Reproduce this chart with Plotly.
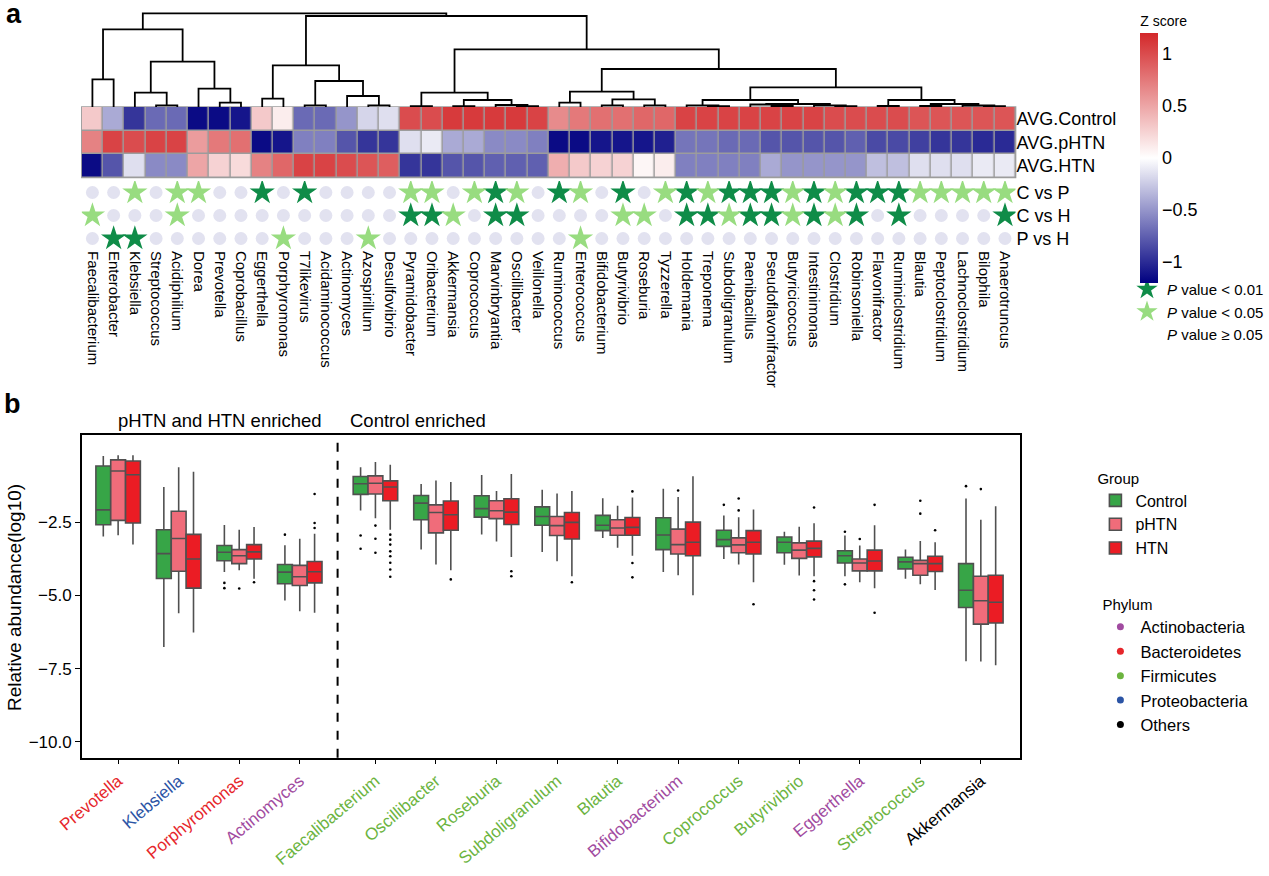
import plotly.graph_objects as go

# ---------------- panel a data ----------------
genera = ["Faecalibacterium", "Enterobacter", "Klebsiella", "Streptococcus", "Acidiphilium", "Dorea",
          "Prevotella", "Coprobacillus", "Eggerthella", "Porphyromonas", "T7likevirus", "Acidaminococcus",
          "Actinomyces", "Azospirillum", "Desulfovibrio", "Pyramidobacter", "Oribacterium", "Akkermansia",
          "Coprococcus", "Marvinbryantia", "Oscillibacter", "Veillonella", "Ruminococcus", "Enterococcus",
          "Bifidobacterium", "Butyrivibrio", "Roseburia", "Tyzzerella", "Holdemania", "Treponema",
          "Subdoligranulum", "Paenibacillus", "Pseudoflavonifractor", "Butyricicoccus", "Intestinimonas",
          "Clostridium", "Robinsoniella", "Flavonifractor", "Ruminiclostridium", "Blautia",
          "Peptoclostridium", "Lachnoclostridium", "Bilophila", "Anaerotruncus"]
heat_rows = ["AVG.Control", "AVG.pHTN", "AVG.HTN"]
z_control = [0.3, -0.4, -0.95, -0.7, -0.7, -1.15, -1.15, -1.1, 0.3, 0.1, -0.7, -0.7, -0.5, -0.2, -0.15,
             1.0, 1.0, 1.1, 1.1, 1.1, 1.1, 1.05,
             0.65, 0.75, 0.8, 0.8, 0.85, 0.85,
             1.05, 1.05, 1.05, 1.05, 1.05, 1.05, 1.05, 1.0, 1.0, 1.0, 1.0, 0.95, 0.95, 0.95, 0.95, 0.95]
z_phtn = [0.7, 1.05, 1.0, 1.05, 1.05, 0.55, 0.75, 0.8, -1.15, -1.1, -0.6, -0.6, -0.8, -0.95, -0.95,
          -0.15, -0.1, -0.4, -0.4, -0.55, -0.55, -0.6,
          -1.15, -1.15, -1.1, -1.1, -1.1, -1.05,
          -0.65, -0.65, -0.7, -0.7, -0.8, -0.8, -0.8, -0.8, -0.75, -0.85, -0.85, -0.9, -0.95, -0.95, -1.0, -1.0]
z_htn = [-1.15, -0.8, -0.15, -0.55, -0.55, 0.5, 0.25, 0.2, 0.7, 0.85, 1.05, 1.05, 1.0, 0.95, 0.9,
         -0.95, -0.95, -0.8, -0.8, -0.75, -0.75, -0.75,
         0.45, 0.3, 0.25, 0.25, 0.05, 0.1,
         -0.6, -0.6, -0.6, -0.6, -0.4, -0.5, -0.5, -0.5, -0.5, -0.3, -0.3, -0.15, -0.15, -0.15, -0.1, -0.1]

comparisons = ["C vs P", "C vs H", "P vs H"]
# 2 = P<0.01, 1 = P<0.05, 0 = P>=0.05
sig_cvp = [0, 0, 1, 0, 1, 1, 0, 0, 2, 0, 2, 0, 0, 0, 0, 1, 1, 0, 1, 2, 1, 0,
           2, 1, 0, 2, 0, 1, 2, 1, 2, 2, 2, 1, 2, 1, 2, 2, 2, 1, 1, 1, 1, 1]
sig_cvh = [1, 0, 0, 0, 1, 0, 0, 0, 0, 0, 0, 0, 0, 0, 0, 2, 2, 1, 0, 2, 2, 0,
           0, 0, 0, 1, 1, 0, 2, 2, 1, 2, 2, 1, 2, 1, 2, 0, 2, 0, 0, 0, 0, 2]
sig_pvh = [0, 2, 2, 0, 0, 0, 0, 0, 0, 1, 0, 0, 0, 1, 0, 0, 0, 0, 0, 0, 0, 0,
           0, 1, 0, 0, 0, 0, 0, 0, 0, 0, 0, 0, 0, 0, 0, 0, 0, 0, 0, 0, 0, 0]

# dendrogram merges: (child a, child b, height); leaves 0..43, merge k creates node 44+k
merges = [(3, 4, 1.7), (2, 44, 14.3), (6, 7, 4.3), (5, 46, 18.3), (45, 47, 45.3), (0, 1, 27.7),
          (49, 48, 77.7), (8, 9, 8.3), (10, 11, 1.7), (13, 14, 1.7), (12, 53, 11.0), (52, 54, 26.0),
          (51, 55, 41.7), (15, 16, 0.8), (17, 18, 0.8), (20, 21, 0.8), (19, 59, 2.0), (58, 60, 7.0),
          (57, 61, 14.3), (22, 23, 4.3), (24, 25, 1.7), (26, 27, 1.7), (64, 65, 7.7), (63, 66, 15.3),
          (29, 30, 0.8), (28, 68, 1.7), (32, 33, 1.0), (31, 70, 2.5), (35, 36, 0.8), (34, 72, 1.7),
          (71, 73, 3.0), (69, 74, 7.0), (37, 38, 1.0), (39, 40, 1.0), (42, 43, 0.8), (41, 78, 1.5),
          (77, 79, 3.0), (76, 80, 7.0), (75, 81, 19.7), (67, 82, 38.0), (62, 83, 57.7), (56, 84, 91.0),
          (50, 85, 93.7)]

# ---------------- panel b data ----------------
box_genera = ["Prevotella", "Klebsiella", "Porphyromonas", "Actinomyces", "Faecalibacterium",
              "Oscillibacter", "Roseburia", "Subdoligranulum", "Blautia", "Bifidobacterium",
              "Coprococcus", "Butyrivibrio", "Eggerthella", "Streptococcus", "Akkermansia"]
box_phylum = ["Bacteroidetes", "Proteobacteria", "Bacteroidetes", "Actinobacteria", "Firmicutes",
              "Firmicutes", "Firmicutes", "Firmicutes", "Firmicutes", "Actinobacteria",
              "Firmicutes", "Firmicutes", "Actinobacteria", "Firmicutes", "Others"]
n_enriched_left = 4
groups = ["Control", "pHTN", "HTN"]
# (lower whisker, q1, median, q3, upper whisker)
control_stats = [(-2.98, -2.58, -2.07, -0.57, -0.23), (-6.76, -4.42, -3.57, -2.75, -1.29),
                 (-4.20, -3.81, -3.52, -3.29, -2.59), (-5.17, -4.60, -4.20, -3.94, -3.28),
                 (-2.09, -1.54, -1.18, -0.93, -0.61), (-3.43, -2.41, -1.84, -1.58, -1.19),
                 (-2.91, -2.32, -2.03, -1.59, -0.88), (-3.51, -2.60, -2.30, -1.97, -1.38),
                 (-3.03, -2.78, -2.60, -2.26, -1.67), (-4.20, -3.43, -2.93, -2.34, -1.35),
                 (-3.75, -3.32, -3.09, -2.77, -2.26), (-3.95, -3.54, -3.18, -3.00, -2.82),
                 (-4.34, -3.89, -3.64, -3.47, -2.95), (-4.43, -4.09, -3.85, -3.69, -3.43),
                 (-7.25, -5.41, -4.82, -3.91, -1.68)]
phtn_stats = [(-2.94, -2.43, -0.74, -0.36, -0.20), (-5.61, -4.17, -3.05, -2.12, -0.61),
              (-4.14, -3.91, -3.64, -3.43, -2.75), (-5.54, -4.66, -4.36, -3.97, -3.06),
              (-2.36, -1.53, -1.16, -0.91, -0.43), (-3.94, -2.86, -2.16, -1.90, -1.07),
              (-3.15, -2.37, -2.10, -1.76, -1.43), (-3.83, -2.95, -2.61, -2.30, -1.51),
              (-3.37, -2.94, -2.69, -2.41, -1.93), (-4.31, -3.58, -3.26, -2.73, -1.63),
              (-3.94, -3.54, -3.27, -3.03, -2.32), (-4.32, -3.73, -3.45, -3.20, -2.65),
              (-4.55, -4.16, -3.89, -3.75, -3.29), (-4.62, -4.31, -3.91, -3.80, -3.14),
              (-7.26, -5.98, -5.18, -4.34, -2.41)]
htn_stats = [(-3.26, -2.52, -0.87, -0.40, -0.20), (-6.27, -4.75, -3.75, -2.91, -0.77),
             (-4.43, -3.75, -3.51, -3.26, -2.66), (-5.59, -4.57, -4.19, -3.84, -2.89),
             (-2.75, -1.76, -1.29, -1.08, -0.53), (-4.14, -2.77, -2.24, -1.77, -1.12),
             (-3.68, -2.57, -2.15, -1.69, -0.84), (-4.34, -3.07, -2.50, -2.16, -1.43),
             (-3.64, -2.94, -2.67, -2.33, -1.65), (-4.99, -3.64, -3.18, -2.49, -0.92),
             (-4.55, -3.58, -3.18, -2.78, -2.06), (-4.34, -3.68, -3.39, -3.14, -2.53),
             (-4.75, -4.16, -3.82, -3.45, -2.60), (-4.81, -4.18, -3.91, -3.66, -3.18),
             (-7.39, -5.94, -5.23, -4.31, -1.95)]
control_out = [[], [], [-4.57, -4.75], [-2.92], [-2.95, -3.40], [], [], [], [], [], [-1.90], [],
               [-2.82, -4.62], [], [-1.26]]
phtn_out = [[], [], [-4.76], [], [-2.61, -3.06, -3.54], [], [], [], [], [-1.41], [-1.68, -2.09], [],
            [-3.07], [-1.76, -2.20], [-1.36]]
htn_out = [[], [], [-4.55], [-1.53, -2.52, -2.69],
           [-2.92, -3.09, -3.26, -3.49, -3.66, -3.88, -4.11, -4.36], [-4.45], [-4.17, -4.34], [-4.55],
           [-1.44, -3.89, -4.38], [], [-5.30], [-1.99, -4.51, -4.82, -5.14], [-1.90, -5.59], [-2.77], []]
y_ticks = [-10.0, -7.5, -5.0, -2.5]

# ---------------- styles ----------------
FONT = "Liberation Sans, Arial, sans-serif"
W, H = 1269, 876
phylum_colors = {"Actinobacteria": "#A14BA0", "Bacteroidetes": "#E6262B", "Firmicutes": "#6CB43F",
                 "Proteobacteria": "#2B54A5", "Others": "#000000"}
group_fill = ["#37A547", "#F06C7A", "#EB1C24"]
star_dark, star_light, dot_ns = "#0F8C48", "#98DC80", "#E2E2F0"


def px_x(p):
    return p / W


def px_y(p):
    return 1 - p / H


hx = [px_x(82), px_x(1018)]
fig = go.Figure()

# dendrogram
pos = {i: float(i) for i in range(len(genera))}
hgt = {i: 0.0 for i in range(len(genera))}
dx, dy = [], []
for k, (a, b, h) in enumerate(merges):
    nid = len(genera) + k
    dx += [pos[a], pos[a], pos[b], pos[b], None]
    dy += [hgt[a], h, h, hgt[b], None]
    pos[nid] = (pos[a] + pos[b]) / 2
    hgt[nid] = h
fig.add_trace(go.Scatter(x=dx, y=dy, mode="lines", line=dict(color="black", width=1.8),
                         showlegend=False, hoverinfo="skip", xaxis="x", yaxis="y"))

# heatmap
fig.add_trace(go.Heatmap(
    z=[z_control, z_phtn, z_htn], x=list(range(len(genera))), y=[0, 1, 2],
    zmin=-1.2, zmax=1.2, xgap=1.5, ygap=1.5,
    colorscale=[[0, "#000080"], [0.5, "#FFFFFF"], [1, "#D3282A"]],
    colorbar=dict(x=px_x(1143), xanchor="left", y=px_y(12), yanchor="top", len=(283 - 12) / H,
                  lenmode="fraction", thickness=18, thicknessmode="pixels", xpad=0, ypad=0,
                  outlinewidth=0, ticks="", tickvals=[-1, -0.5, 0, 0.5, 1],
                  ticktext=["\u22121", "\u22120.5", "0", "0.5", "1"],
                  tickfont=dict(size=18, family=FONT, color="black"),
                  title=dict(text="Z score", side="top", font=dict(size=14, family=FONT, color="black"))),
    hoverinfo="skip", xaxis="x2", yaxis="y2", showlegend=False))

# significance markers
sig_rows = [sig_cvp, sig_cvh, sig_pvh]


def pick(code):
    xs, ys = [], []
    for r, row in enumerate(sig_rows):
        for c, v in enumerate(row):
            if v == code:
                xs.append(c)
                ys.append(r)
    return xs, ys


xs, ys = pick(0)
fig.add_trace(go.Scatter(x=xs, y=ys, mode="markers", marker=dict(symbol="circle", size=13, color=dot_ns),
                         showlegend=False, hoverinfo="skip", xaxis="x3", yaxis="y3"))
xs, ys = pick(2)
fig.add_trace(go.Scatter(x=xs, y=ys, mode="markers", name="<i>P</i> value &lt; 0.01",
                         marker=dict(symbol="star", size=19, color=star_dark),
                         legend="legend", hoverinfo="skip", xaxis="x3", yaxis="y3"))
xs, ys = pick(1)
fig.add_trace(go.Scatter(x=xs, y=ys, mode="markers", name="<i>P</i> value &lt; 0.05",
                         marker=dict(symbol="star", size=19, color=star_light),
                         legend="legend", hoverinfo="skip", xaxis="x3", yaxis="y3"))
fig.add_trace(go.Scatter(x=[None], y=[None], mode="markers", name="<i>P</i> value \u2265 0.05",
                         marker=dict(symbol="circle", size=13, color="white"),
                         legend="legend", hoverinfo="skip", xaxis="x3", yaxis="y3"))

# box plot
gap_units = 0.25
box_pos = [i + (gap_units if i >= n_enriched_left else 0) for i in range(len(box_genera))]
offsets = [-0.245, 0.0, 0.245]
all_stats = [control_stats, phtn_stats, htn_stats]
all_out = [control_out, phtn_out, htn_out]
for g, name in enumerate(groups):
    st = all_stats[g]
    fig.add_trace(go.Box(
        x=[p + offsets[g] for p in box_pos],
        lowerfence=[s[0] for s in st], q1=[s[1] for s in st], median=[s[2] for s in st],
        q3=[s[3] for s in st], upperfence=[s[4] for s in st],
        width=0.245, whiskerwidth=0, boxpoints=False, name=name,
        fillcolor=group_fill[g], line=dict(color="#505050", width=1.6),
        legend="legend2", hoverinfo="skip", xaxis="x4", yaxis="y4"))
for g in range(len(groups)):
    ox, oy = [], []
    for i, vals in enumerate(all_out[g]):
        for v in vals:
            ox.append(box_pos[i] + offsets[g])
            oy.append(v)
    fig.add_trace(go.Scatter(x=ox, y=oy, mode="markers", marker=dict(size=2.6, color="black"),
                             showlegend=False, hoverinfo="skip", xaxis="x4", yaxis="y4"))

for ph, col in phylum_colors.items():
    fig.add_trace(go.Scatter(x=[None], y=[None], mode="markers", name=ph,
                             marker=dict(size=7, color=col), legend="legend3",
                             xaxis="x4", yaxis="y4"))

box_ticktext = ["<span style='color:%s'>%s</span>" % (phylum_colors[p], g)
                for g, p in zip(box_genera, box_phylum)]

hidden = dict(visible=False, showgrid=False, zeroline=False)
fig.update_layout(
    width=W, height=H, template="none", paper_bgcolor="white", plot_bgcolor="rgba(0,0,0,0)",
    margin=dict(l=0, r=0, t=0, b=0), font=dict(family=FONT, color="black"),
    xaxis=dict(domain=hx, range=[-0.5, len(genera) - 0.5], anchor="y", **hidden),
    yaxis=dict(domain=[px_y(107), px_y(12)], range=[0, 95], anchor="x", **hidden),
    xaxis2=dict(domain=hx, range=[-0.5, len(genera) - 0.5], anchor="y2", **hidden),
    yaxis2=dict(domain=[px_y(177.5), px_y(107)], range=[2.5, -0.5], anchor="x2", side="right",
                tickvals=[0, 1, 2], ticktext=heat_rows, ticks="", showgrid=False, zeroline=False,
                showline=False, tickfont=dict(size=18, family=FONT)),
    xaxis3=dict(domain=hx, range=[-0.5, len(genera) - 0.5], anchor="y3", tickvals=list(range(len(genera))),
                ticktext=genera, tickangle=90, ticks="", showgrid=False, zeroline=False, showline=False,
                tickfont=dict(size=15, family=FONT)),
    yaxis3=dict(domain=[px_y(250), px_y(181)], range=[2.5, -0.5], anchor="x3", side="right",
                tickvals=[0, 1, 2], ticktext=comparisons, ticks="", showgrid=False, zeroline=False,
                showline=False, tickfont=dict(size=18, family=FONT)),
    xaxis4=dict(domain=[px_x(82), px_x(1022)], range=[box_pos[0] - 0.6, box_pos[-1] + 0.64], anchor="y4",
                tickvals=box_pos, ticktext=box_ticktext, tickangle=-40, ticks="outside", ticklen=5,
                tickcolor="black", showline=True, mirror=True, linecolor="black", linewidth=1.5,
                showgrid=False, zeroline=False, tickfont=dict(size=17, family=FONT)),
    yaxis4=dict(domain=[px_y(757.7), px_y(435)], range=[-10.55, 0.49], anchor="x4",
                tickvals=y_ticks, ticktext=["\u2212%.1f" % abs(v) for v in y_ticks], ticks="outside",
                ticklen=5, tickcolor="black", showline=True, mirror=True, linecolor="black",
                linewidth=1.5, showgrid=False, zeroline=False, tickfont=dict(size=17, family=FONT)),
    legend=dict(x=px_x(1130), y=px_y(273), xanchor="left", yanchor="top", bgcolor="rgba(0,0,0,0)",
                font=dict(size=15, family=FONT), tracegroupgap=0),
    legend2=dict(x=px_x(1098), y=px_y(464), xanchor="left", yanchor="top", bgcolor="rgba(0,0,0,0)",
                 title=dict(text="Group", font=dict(size=15, family=FONT)),
                 font=dict(size=16, family=FONT), tracegroupgap=0),
    legend3=dict(x=px_x(1103), y=px_y(590), xanchor="left", yanchor="top", bgcolor="rgba(0,0,0,0)",
                 title=dict(text="Phylum", font=dict(size=15, family=FONT)),
                 font=dict(size=16.5, family=FONT), tracegroupgap=0),
    shapes=[
        dict(type="rect", xref="x2 domain", yref="y2 domain", x0=0, x1=1, y0=0, y1=1,
             fillcolor="#9C9C9C", line=dict(color="#9C9C9C", width=1.5), layer="below"),
        dict(type="line", xref="x4", yref="y4 domain",
             x0=(box_pos[n_enriched_left - 1] + box_pos[n_enriched_left]) / 2,
             x1=(box_pos[n_enriched_left - 1] + box_pos[n_enriched_left]) / 2,
             y0=0, y1=1, line=dict(color="black", width=2, dash="dash")),
    ],
    annotations=[
        dict(text="<b>a</b>", x=px_x(4), y=px_y(14), xref="paper", yref="paper", xanchor="left",
             yanchor="middle", showarrow=False, font=dict(size=27, family=FONT)),
        dict(text="<b>b</b>", x=px_x(2), y=px_y(404), xref="paper", yref="paper", xanchor="left",
             yanchor="middle", showarrow=False, font=dict(size=27, family=FONT)),
        dict(text="pHTN and HTN enriched", x=px_x(221), y=px_y(421), xref="paper", yref="paper",
             xanchor="center", yanchor="middle", showarrow=False, font=dict(size=18.5, family=FONT)),
        dict(text="Control enriched", x=px_x(419), y=px_y(421), xref="paper", yref="paper",
             xanchor="center", yanchor="middle", showarrow=False, font=dict(size=18.5, family=FONT)),
        dict(text="Relative abundance(log10)", x=px_x(14), y=px_y(597), xref="paper", yref="paper",
             xanchor="center", yanchor="middle", textangle=-90, showarrow=False,
             font=dict(size=19, family=FONT)),
    ],
)

fig.write_html("out.html", config={"displayModeBar": False},
               post_script="document.body.style.margin='0px';document.body.style.overflow='hidden';")
